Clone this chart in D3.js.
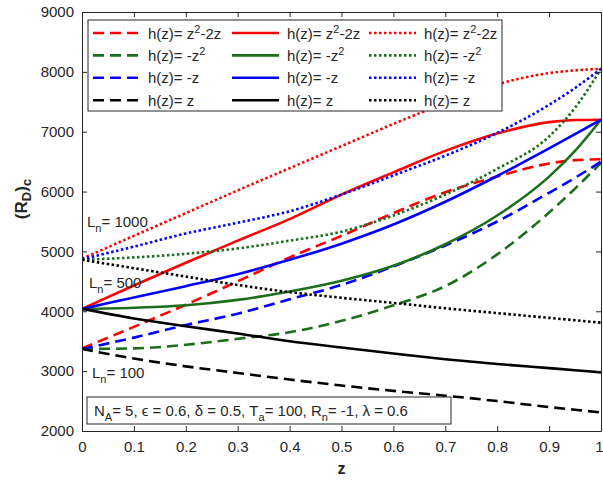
<!DOCTYPE html>
<html><head><meta charset="utf-8">
<script src="https://cdn.jsdelivr.net/npm/d3@7"></script>
<style>body{margin:0;background:#fff}svg{display:block;font-family:"Liberation Sans",Arial,sans-serif}</style>
</head><body><svg id="c" width="603" height="483"></svg>
<script>
// ---------- data ----------
const zValues = [0, 0.1, 0.2, 0.3, 0.4, 0.5, 0.6, 0.7, 0.8, 0.9, 0.95, 1.0];
const xTicks = [0, 0.1, 0.2, 0.3, 0.4, 0.5, 0.6, 0.7, 0.8, 0.9, 1];
const xTickLabels = ["0", "0.1", "0.2", "0.3", "0.4", "0.5", "0.6", "0.7", "0.8", "0.9", "1"];
const yTicks = [2000, 3000, 4000, 5000, 6000, 7000, 8000, 9000];
const hNames = ["z2-2z", "-z2", "-z", "z"];
const lnValues = [100, 500, 1000];

// L_n = 100 (dashed)
const ln100_z2m2z = [3380, 3740, 4110, 4500, 4900, 5260, 5640, 5990, 6250, 6470, 6525, 6540];
const ln100_mz2   = [3370, 3380, 3440, 3540, 3650, 3840, 4100, 4420, 4950, 5650, 6050, 6480];
const ln100_mz    = [3370, 3560, 3770, 3960, 4200, 4440, 4750, 5100, 5500, 5980, 6230, 6500];
const ln100_z     = [3370, 3210, 3080, 2970, 2860, 2760, 2670, 2590, 2500, 2400, 2355, 2310];
// L_n = 500 (solid)
const ln500_z2m2z = [4040, 4430, 4810, 5180, 5540, 5950, 6320, 6680, 6970, 7160, 7195, 7200];
const ln500_mz2   = [4040, 4060, 4100, 4190, 4330, 4510, 4760, 5120, 5600, 6250, 6680, 7200];
const ln500_mz    = [4040, 4230, 4420, 4620, 4860, 5130, 5450, 5830, 6260, 6720, 6960, 7200];
const ln500_z     = [4040, 3880, 3750, 3630, 3500, 3395, 3295, 3200, 3120, 3050, 3015, 2980];
// L_n = 1000 (dotted)
const ln1000_z2m2z = [4880, 5260, 5640, 6020, 6390, 6760, 7130, 7480, 7790, 7980, 8025, 8050];
const ln1000_mz2   = [4860, 4900, 4960, 5050, 5180, 5330, 5600, 5950, 6380, 6920, 7400, 8050];
const ln1000_mz    = [4870, 5080, 5300, 5480, 5670, 5950, 6270, 6600, 6980, 7450, 7730, 8050];
const ln1000_z     = [4860, 4720, 4580, 4440, 4320, 4225, 4140, 4050, 3970, 3890, 3850, 3810];

const paramText = "N_A= 5, ϵ = 0.6, δ = 0.5, T_a= 100, R_n= -1, λ = 0.6";

// ---------- build series ----------
const colors = ["#ff0000", "#1b6f1b", "#0000ff", "#000000"];
const styles = {100: "dashed", 500: "solid", 1000: "dotted"};
const dataByLn = {
  100: [ln100_z2m2z, ln100_mz2, ln100_mz, ln100_z],
  500: [ln500_z2m2z, ln500_mz2, ln500_mz, ln500_z],
  1000: [ln1000_z2m2z, ln1000_mz2, ln1000_mz, ln1000_z]
};
const series = [];
lnValues.forEach(ln => dataByLn[ln].forEach((vals, i) => series.push({ln, h: i, color: colors[i], style: styles[ln], values: vals})));

const dash = {dashed: "11,6", solid: null, dotted: "2.5,2.5"};

// ---------- layout ----------
const svg = d3.select("#c");
const L = 82, R = 601, T = 12, B = 431;
const x = d3.scaleLinear().domain([0, 1]).range([L, R]);
const y = d3.scaleLinear().domain([2000, 9000]).range([B, T]);
const axisColor = "#262626";

const line = d3.line().x((d, i) => x(zValues[i])).y(d => y(d)).curve(d3.curveMonotoneX);

svg.append("clipPath").attr("id", "pc").append("rect")
  .attr("x", L).attr("y", T).attr("width", R - L).attr("height", B - T);

const gl = svg.append("g").attr("clip-path", "url(#pc)");
series.forEach(s => {
  gl.append("path").datum(s.values).attr("d", line)
    .attr("fill", "none").attr("stroke", s.color).attr("stroke-width", 2.6)
    .attr("stroke-dasharray", dash[s.style]);
});

// axes (MATLAB-style box with inward ticks)
const gx = svg.append("g").attr("transform", `translate(0,${B})`)
  .call(d3.axisBottom(x).tickValues(xTicks).tickFormat((d, i) => xTickLabels[i]).tickSizeInner(-5).tickSizeOuter(0).tickPadding(10));
const gxt = svg.append("g").attr("transform", `translate(0,${T})`)
  .call(d3.axisTop(x).tickValues(xTicks).tickFormat("").tickSizeInner(-5).tickSizeOuter(0));
const gy = svg.append("g").attr("transform", `translate(${L},0)`)
  .call(d3.axisLeft(y).tickValues(yTicks).tickFormat(d3.format("d")).tickSizeInner(-5).tickSizeOuter(0).tickPadding(8));
const gyr = svg.append("g").attr("transform", `translate(${R},0)`)
  .call(d3.axisRight(y).tickValues(yTicks).tickFormat("").tickSizeInner(-5).tickSizeOuter(0));
[gx, gxt, gy, gyr].forEach(g => {
  g.selectAll("path.domain").attr("stroke", axisColor).attr("stroke-width", 1);
  g.selectAll("line").attr("stroke", axisColor);
  g.selectAll("text").attr("fill", axisColor).style("font-size", "15px").style("font-family", "Liberation Sans, Arial, sans-serif");
});
// keep the last x label inside the page
gx.selectAll(".tick").filter(d => d === 1).select("text").attr("text-anchor", "end").attr("x", 2);

// axis labels
svg.append("text").attr("x", (L + R) / 2).attr("y", 474).attr("text-anchor", "middle")
  .attr("font-weight", "bold").attr("font-size", 16).attr("fill", axisColor).text("z");
const yl = svg.append("text").attr("transform", "translate(27,199) rotate(-90)").attr("text-anchor", "middle")
  .attr("font-weight", "bold").attr("font-size", 17).attr("fill", axisColor);
yl.append("tspan").text("(R");
yl.append("tspan").attr("font-size", 13).attr("dy", 4).text("D");
yl.append("tspan").attr("dy", -4).text(")");
yl.append("tspan").attr("font-size", 13).attr("dy", 4).text("c");

// L_n annotations
function lnLabel(xp, yp, val) {
  const t = svg.append("text").attr("x", xp).attr("y", yp).attr("font-size", 15).attr("fill", axisColor);
  t.append("tspan").text("L");
  t.append("tspan").attr("font-size", 11).attr("dy", 5).text("n");
  t.append("tspan").attr("dy", -5).text("= " + val);
}
lnLabel(87, 227, lnValues[2]);
lnLabel(89, 288, lnValues[1]);
lnLabel(92, 378, lnValues[0]);

// legend
const leg = svg.append("g");
leg.append("rect").attr("x", 88).attr("y", 20).attr("width", 414).attr("height", 91)
  .attr("fill", "#fff").attr("stroke", axisColor).attr("stroke-width", 1);
const colX = [93, 232, 369];
function hText(sel, idx) {
  sel.append("tspan").text("h(z)= ");
  if (idx === 0) {
    sel.append("tspan").text("z");
    sel.append("tspan").attr("font-size", 11).attr("dy", -6).text("2");
    sel.append("tspan").attr("dy", 6).text("-2z");
  } else if (idx === 1) {
    sel.append("tspan").text("-z");
    sel.append("tspan").attr("font-size", 11).attr("dy", -6).text("2");
  } else if (idx === 2) {
    sel.append("tspan").text("-z");
  } else {
    sel.append("tspan").text("z");
  }
}
lnValues.forEach((ln, c) => {
  [0, 1, 2, 3].forEach(i => {
    const yy = 33 + i * 22.4;
    leg.append("line").attr("x1", colX[c]).attr("x2", colX[c] + 47).attr("y1", yy).attr("y2", yy)
      .attr("stroke", colors[i]).attr("stroke-width", 2.6).attr("stroke-dasharray", dash[styles[ln]]);
    const t = leg.append("text").attr("x", colX[c] + 55).attr("y", yy + 5.5).attr("font-size", 15).attr("fill", axisColor);
    hText(t, i);
  });
});

// parameter box
svg.append("rect").attr("x", 87).attr("y", 397).attr("width", 364).attr("height", 27)
  .attr("fill", "#fff").attr("stroke", axisColor).attr("stroke-width", 1);
const pt = svg.append("text").attr("x", 94).attr("y", 416).attr("font-size", 15).attr("fill", axisColor);
let lowered = false;
paramText.split(/(_[A-Za-z])/).filter(p => p.length).forEach(part => {
  if (part.startsWith("_")) {
    pt.append("tspan").attr("font-size", 11).attr("dy", 5).text(part.slice(1));
    lowered = true;
  } else {
    const ts = pt.append("tspan").text(part);
    if (lowered) { ts.attr("dy", -5); lowered = false; }
  }
});
</script></body></html>
